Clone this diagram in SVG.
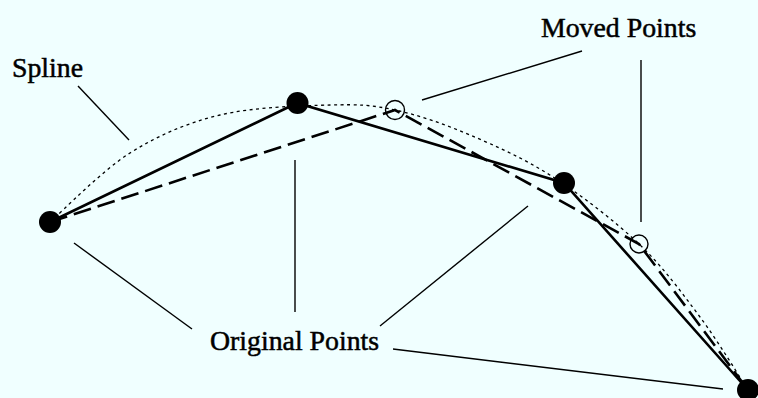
<svg xmlns="http://www.w3.org/2000/svg" width="758" height="398" viewBox="0 0 758 398">
<style>
.bg{fill:#f0ffff}
.lbl{font-family:"Liberation Serif","Times New Roman",serif;font-size:27.8px;fill:#000;stroke:#000;stroke-width:0.5}
.solid{fill:none;stroke:#000;stroke-width:2.6;stroke-linejoin:miter}
.dash{fill:none;stroke:#000;stroke-width:2.6;stroke-dasharray:18 7}
.spline{fill:none;stroke:#000;stroke-width:1.3;stroke-dasharray:3 3.5}
.leader{fill:none;stroke:#000;stroke-width:1.4}
.orig{fill:#000}
.moved{fill:none;stroke:#000;stroke-width:1.4}
</style>
<rect class="bg" x="0" y="0" width="758" height="398"/>
<g id="connectors">
<path class="spline" d="M50,222 C63.3,210.5 101.7,170.8 130,153 C158.3,135.2 186.7,123 220,115 C253.3,107 300.8,105.8 330,105 C359.2,104.2 371.7,105 395,110 C418.3,115 443.7,123.8 470,135 C496.3,146.2 524.8,158.8 553,177 C581.2,195.2 614.5,220.7 639,244 C663.5,267.3 681.8,292.7 700,317 C718.2,341.3 740,377.8 748,390"/>
<polyline class="solid" points="50,222 297,103 564,183 748,390"/>
<polyline class="dash" points="50,222 395,110 639,244 748,390"/>
<line class="leader" x1="78" y1="86" x2="129" y2="140"/>
<line class="leader" x1="422" y1="100" x2="582" y2="51"/>
<line class="leader" x1="641" y1="60" x2="641" y2="222"/>
<line class="leader" x1="74" y1="243" x2="192" y2="329"/>
<line class="leader" x1="295" y1="160" x2="295" y2="312"/>
<line class="leader" x1="380" y1="326" x2="528" y2="206"/>
<line class="leader" x1="393" y1="349" x2="723" y2="389"/>
</g>
<g id="original-points">
<circle class="orig" cx="50" cy="222" r="11"/>
<circle class="orig" cx="297.5" cy="103" r="11"/>
<circle class="orig" cx="564" cy="183" r="11"/>
<circle class="orig" cx="748" cy="390" r="11"/>
</g>
<g id="moved-points">
<circle class="moved" cx="395" cy="110" r="9.5"/>
<circle class="moved" cx="639" cy="244" r="9"/>
</g>
<g id="label-spline"><text class="lbl" x="12" y="77">Spline</text></g>
<g id="label-moved"><text class="lbl" x="541" y="37">Moved Points</text></g>
<g id="label-original"><text class="lbl" x="210" y="350">Original Points</text></g>
</svg>
